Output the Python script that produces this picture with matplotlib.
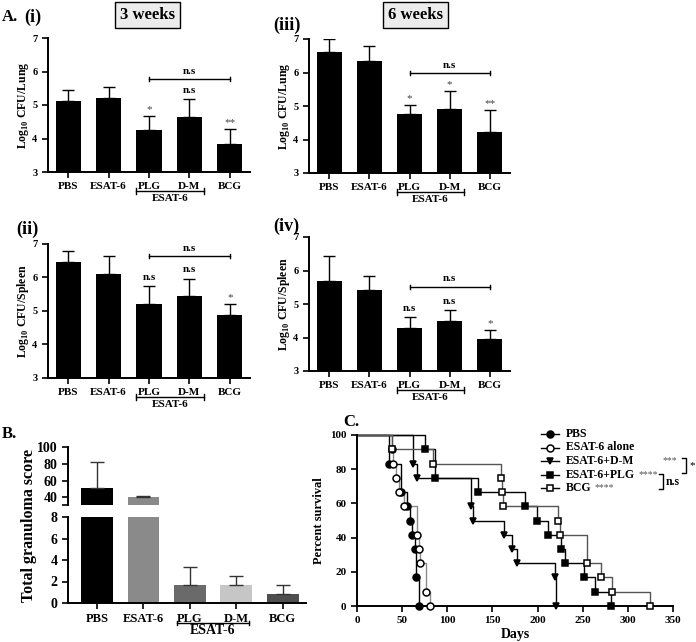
import matplotlib
matplotlib.use("Agg")
import matplotlib.pyplot as plt
from matplotlib.lines import Line2D
import numpy as np

plt.rcParams['font.family'] = ['Liberation Serif', 'DejaVu Serif']
plt.rcParams['font.weight'] = 'bold'
plt.rcParams['mathtext.fontset'] = 'custom'
plt.rcParams['mathtext.rm'] = 'Liberation Serif:bold'
plt.rcParams['mathtext.bf'] = 'Liberation Serif:bold'
plt.rcParams['axes.linewidth'] = 1.4

W, H = 696, 642

# ---- data ----
groups = ['PBS', 'ESAT-6', 'PLG', 'D-M', 'BCG']

lung_3wk = [5.13, 5.21, 4.24, 4.64, 3.85]
lung_3wk_sd = [0.32, 0.32, 0.44, 0.53, 0.42]
lung_6wk = [6.60, 6.34, 4.75, 4.91, 4.22]
lung_6wk_sd = [0.40, 0.46, 0.28, 0.53, 0.67]
spleen_3wk = [6.46, 6.10, 5.20, 5.45, 4.89]
spleen_3wk_sd = [0.34, 0.53, 0.54, 0.52, 0.31]
spleen_6wk = [5.68, 5.42, 4.29, 4.48, 3.95]
spleen_6wk_sd = [0.74, 0.42, 0.33, 0.34, 0.26]

sig_i = ['', '', '*', 'n.s', '**']
sig_iii = ['', '', '*', '*', '**']
sig_ii = ['', '', 'n.s', 'n.s', '*']
sig_iv = ['', '', 'n.s', 'n.s', '*']

granuloma = [50.8, 40.7, 1.67, 1.67, 0.83]
granuloma_sd = [31.5, 1.6, 1.67, 0.83, 0.83]

pbs_days = [35, 49, 55, 59, 61, 64, 65, 69]
pbs_surv = [83.3, 66.7, 58.3, 50.0, 41.7, 33.3, 16.7, 0]
esat_days = [39, 40, 43, 46, 52, 66, 69, 70, 76, 81]
esat_surv = [91.7, 83.3, 75.0, 66.7, 58.3, 41.7, 33.3, 25.0, 8.3, 0]
dm_days = [62, 66, 126, 129, 163, 172, 177, 219, 220]
dm_surv = [83.3, 75.0, 58.3, 50.0, 41.7, 33.3, 25.0, 16.7, 0]
plg_days = [75, 86, 134, 186, 199, 212, 226, 230, 251, 264, 281]
plg_surv = [91.7, 75.0, 66.7, 58.3, 50.0, 41.7, 33.3, 25.0, 16.7, 8.3, 0]
bcg_days = [39, 84, 159, 161, 162, 223, 225, 255, 270, 282, 325]
bcg_surv = [91.7, 83.3, 75.0, 66.7, 58.3, 50.0, 41.7, 25.0, 16.7, 8.3, 0]

legend_stars = ['', '', '', '****', '****']


def px_axes(fig, left, top, right, bottom):
    return fig.add_axes([left / W, 1 - bottom / H, (right - left) / W, (bottom - top) / H])


def style(ax):
    ax.spines['top'].set_visible(False)
    ax.spines['right'].set_visible(False)
    ax.tick_params(direction='out', length=4, width=1.2)


def group_bracket(ax, x0, x1, yoff, fs):
    tr = ax.get_xaxis_transform()
    ax.plot([x0, x1], [yoff, yoff], color='black', lw=1, transform=tr, clip_on=False)
    for xx in (x0, x1):
        ax.plot([xx, xx], [yoff - 0.025, yoff + 0.025], color='black', lw=1,
                transform=tr, clip_on=False)
    ax.text((x0 + x1) / 2, yoff - 0.02, 'ESAT-6', transform=tr, ha='center', va='top',
            fontsize=fs, fontweight='bold')


def bar_panel(ax, means, sds, sig, ylabel, ns_y):
    x = np.arange(len(groups))
    ax.bar(x, means, width=0.62, color='black', bottom=0)
    ax.errorbar(x, means, yerr=[np.zeros(len(sds)), sds], fmt='none', ecolor='black',
                elinewidth=1, capsize=4, capthick=1)
    ax.set_ylim(3, 7)
    ax.set_xlim(-0.5, 4.5)
    ax.set_yticks([3, 4, 5, 6, 7])
    ax.set_xticks(x)
    ax.set_xticklabels(groups, fontsize=8, fontweight='bold')
    ax.tick_params(axis='y', labelsize=7.5)
    ax.set_ylabel(ylabel, fontsize=8.5, fontweight='bold', labelpad=1)
    style(ax)
    for i, s in enumerate(sig):
        if not s:
            continue
        if s == 'n.s':
            ax.text(i, means[i] + sds[i] + 0.12, s, ha='center', va='bottom',
                    fontsize=8, fontweight='bold')
        else:
            ax.text(i, means[i] + sds[i] + 0.06, s, ha='center', va='bottom',
                    fontsize=8, fontweight='normal', color='#444444')
    ax.plot([2, 4], [ns_y, ns_y], color='black', lw=1)
    for xx in (2, 4):
        ax.plot([xx, xx], [ns_y - 0.06, ns_y + 0.06], color='black', lw=1)
    ax.text(3, ns_y + 0.1, 'n.s', ha='center', va='bottom', fontsize=8, fontweight='bold')
    group_bracket(ax, 1.68, 3.35, -0.142, 8)


fig = plt.figure(figsize=(W / 100, H / 100), dpi=100)

ax1 = px_axes(fig, 48, 38, 250, 172)
bar_panel(ax1, lung_3wk, lung_3wk_sd, sig_i, r'Log$_{10}$ CFU/Lung', 5.78)
ax3 = px_axes(fig, 309, 39, 510, 173)
bar_panel(ax3, lung_6wk, lung_6wk_sd, sig_iii, r'Log$_{10}$ CFU/Lung', 5.98)
ax2 = px_axes(fig, 48, 244, 250, 378)
bar_panel(ax2, spleen_3wk, spleen_3wk_sd, sig_ii, r'Log$_{10}$ CFU/Spleen', 6.63)
ax4 = px_axes(fig, 309, 237, 510, 371)
bar_panel(ax4, spleen_6wk, spleen_6wk_sd, sig_iv, r'Log$_{10}$ CFU/Spleen', 5.52)

# panel labels / headers
fig.text(2 / W, 1 - 17 / H, 'A.', fontsize=12, fontweight='bold', va='center')
fig.text(24 / W, 1 - 17 / H, '(i)', fontsize=13, fontweight='bold', va='center')
fig.text(273 / W, 1 - 25 / H, '(iii)', fontsize=13, fontweight='bold', va='center')
fig.text(16 / W, 1 - 229 / H, '(ii)', fontsize=13, fontweight='bold', va='center')
fig.text(273 / W, 1 - 226 / H, '(iv)', fontsize=13, fontweight='bold', va='center')
fig.text(2 / W, 1 - 434 / H, 'B.', fontsize=12, fontweight='bold', va='center')
fig.text(343 / W, 1 - 422 / H, 'C.', fontsize=12, fontweight='bold', va='center')
box = dict(boxstyle='square,pad=0.3', facecolor='#ececec', edgecolor='black', lw=1)
fig.text(147 / W, 1 - 15 / H, '3 weeks', fontsize=12, fontweight='bold', ha='center',
         va='center', bbox=box)
fig.text(415 / W, 1 - 15 / H, '6 weeks', fontsize=12, fontweight='bold', ha='center',
         va='center', bbox=box)

# ---- panel B: broken axis ----
b_colors = ['black', '#8a8a8a', '#6a6a6a', '#c6c6c6', '#4e4e4e']
xb = np.arange(len(groups))
axb_hi = px_axes(fig, 68, 447, 306, 505)
axb_lo = px_axes(fig, 68, 517, 306, 603)
for ax in (axb_hi, axb_lo):
    ax.bar(xb, granuloma, width=0.68, color=b_colors)
    ax.errorbar(xb, granuloma, yerr=[np.zeros(5), granuloma_sd], fmt='none',
                ecolor='#333333', elinewidth=1, capsize=5, capthick=1)
    ax.set_xlim(-0.62, 4.5)
    style(ax)
    ax.tick_params(axis='y', labelsize=10)
axb_hi.set_ylim(31, 100)
axb_hi.set_yticks([40, 60, 80, 100])
axb_hi.set_yticks([31], minor=True)
axb_hi.tick_params(axis='y', which='minor', length=4, width=1.2)
axb_hi.spines['bottom'].set_visible(False)
axb_hi.set_xticks([])
axb_lo.set_ylim(0, 8)
axb_lo.set_yticks([0, 2, 4, 6, 8])
axb_lo.set_xticks(xb)
axb_lo.set_xticklabels(groups, fontsize=9, fontweight='bold')
group_bracket(axb_lo, 1.72, 3.28, -0.23, 10)
fig.text(29 / W, 1 - 526 / H, 'Total granuloma score', rotation=90, fontsize=11.5,
         fontweight='bold', ha='center', va='center')

# ---- panel C: survival ----
axc = px_axes(fig, 357, 435, 673, 606)
series = [
    ('PBS', pbs_days, pbs_surv, 'o', 'black', 'black'),
    ('ESAT-6 alone', esat_days, esat_surv, 'o', 'white', '#8a8a8a'),
    ('ESAT-6+D-M', dm_days, dm_surv, 'v', 'black', 'black'),
    ('ESAT-6+PLG', plg_days, plg_surv, 's', 'black', 'black'),
    ('BCG', bcg_days, bcg_surv, 's', 'white', '#555555'),
]
for name, days, surv, mk, fc, lc in series:
    axc.step([0] + days, [100] + surv, where='post', color=lc, lw=1, clip_on=False)
    axc.plot(days, surv, ls='none', marker=mk, ms=5, mfc=fc, mec='black', mew=1.1,
             clip_on=False, zorder=5)
axc.set_xlim(0, 350)
axc.set_ylim(0, 100)
axc.set_xticks(range(0, 351, 50))
axc.set_yticks(range(0, 101, 20))
axc.tick_params(labelsize=8)
for lab in axc.get_xticklabels() + axc.get_yticklabels():
    lab.set_fontweight('bold')
style(axc)
axc.set_xlabel('Days', fontsize=10, fontweight='bold', labelpad=2)
axc.set_ylabel('Percent survival', fontsize=9, fontweight='bold', labelpad=4)

# legend drawn by hand
renderer = fig.canvas.get_renderer()
for i, (name, days, surv, mk, fc, lc) in enumerate(series):
    yy = 1 - (434 + 13.5 * i) / H
    fig.add_artist(Line2D([541 / W, 559 / W], [yy, yy], color='black', lw=1))
    fig.add_artist(Line2D([550 / W], [yy], marker=mk, ms=5, mfc=fc, mec='black', mew=1.1))
    t = fig.text(566 / W, yy, name, fontsize=8.5, fontweight='bold', va='center')
    if legend_stars[i]:
        bb = t.get_window_extent(renderer=renderer)
        fig.text((bb.x1 + 3) / W, yy, legend_stars[i], fontsize=7, fontweight='normal',
                 color='#555555', va='center')
fig.text(663 / W, 1 - 461 / H, '***', fontsize=7, fontweight='normal', color='#555555',
         va='center')


def fig_bracket(x, y0, y1):
    fig.add_artist(Line2D([(x - 4) / W, x / W, x / W, (x - 4) / W],
                          [1 - y0 / H, 1 - y0 / H, 1 - y1 / H, 1 - y1 / H],
                          color='black', lw=1))


fig_bracket(686, 458, 473)
fig.text(689 / W, 1 - 466 / H, '*', fontsize=8, fontweight='normal', va='center')
fig_bracket(663, 474, 489)
fig.text(666 / W, 1 - 482 / H, 'n.s', fontsize=8.5, fontweight='bold', va='center')

fig.savefig('out.png', dpi=100)
